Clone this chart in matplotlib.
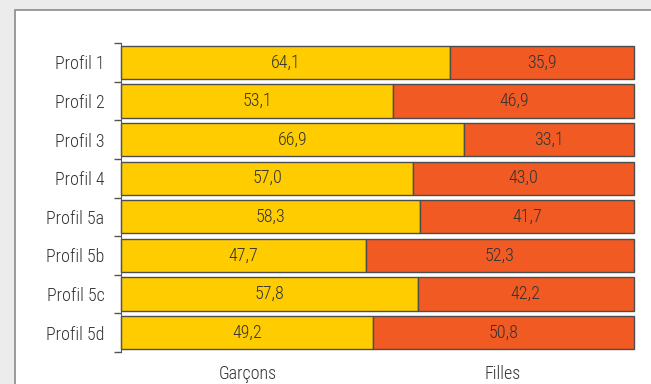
import matplotlib.pyplot as plt
from matplotlib import font_manager
from matplotlib.patches import Rectangle

profils = ['Profil 1', 'Profil 2', 'Profil 3', 'Profil 4', 'Profil 5a', 'Profil 5b', 'Profil 5c', 'Profil 5d']
garcons = [64.1, 53.1, 66.9, 57.0, 58.3, 47.7, 57.8, 49.2]
filles = [35.9, 46.9, 33.1, 43.0, 41.7, 52.3, 42.2, 50.8]
series = ['Garçons', 'Filles']

# prefer a condensed face if one is installed
names = {f.name for f in font_manager.fontManager.ttflist}
narrow = [n for n in ['Liberation Sans Narrow', 'Roboto Condensed', 'Open Sans Condensed'] if n in names]
plt.rcParams['font.family'] = narrow + ['Roboto', 'DejaVu Sans']
plt.rcParams['font.weight'] = 'light'
txt = '#333333'
fs = 13

fig = plt.figure(figsize=(6.51, 3.84), dpi=100, facecolor='#ececec')
# white panel with grey border
fig.patches.append(Rectangle((15/651, -0.1), 1.0, 1 - 10/384 + 0.1, transform=fig.transFigure,
                             facecolor='white', edgecolor='#8a8a8a', linewidth=1.2, zorder=-5))

ax = fig.add_axes([121/651, 1 - 352/384, (634 - 121)/651, (352 - 43)/384])
ax.set_facecolor('none')

y = list(range(len(profils)))
h = 0.86
b1 = ax.barh(y, garcons, height=h, color='#ffcc00', edgecolor='#4d4d4d', linewidth=1)
b2 = ax.barh(y, filles, left=garcons, height=h, color='#f15a22', edgecolor='#4d4d4d', linewidth=1)
for r in list(b1) + list(b2):
    r.set_clip_on(False)

for i in y:
    ax.text(garcons[i] / 2, i, f'{garcons[i]:.1f}'.replace('.', ','), ha='center', va='center',
            fontsize=fs, color=txt)
    ax.text(garcons[i] + filles[i] / 2, i, f'{filles[i]:.1f}'.replace('.', ','), ha='center', va='center',
            fontsize=fs, color=txt)

ax.set_xlim(0, 100)
ax.set_ylim(len(profils) - 0.5, -0.5)
ax.set_yticks(y)
ax.set_yticklabels(profils, fontsize=fs, color=txt)
ax.tick_params(axis='y', which='major', length=0, pad=12)
ax.set_yticks([i - 0.5 for i in range(len(profils) + 1)], minor=True)
ax.tick_params(axis='y', which='minor', length=5, width=1, color='#555555', direction='out')
ax.set_xticks([])
for s in ['top', 'right', 'bottom']:
    ax.spines[s].set_visible(False)
ax.spines['left'].set_color('#555555')

fig.text(248/651, 1 - 374/384, series[0], ha='center', va='center', fontsize=fs, color=txt)
fig.text(503/651, 1 - 374/384, series[1], ha='center', va='center', fontsize=fs, color=txt)

fig.savefig('out.png', dpi=100, facecolor=fig.get_facecolor())
